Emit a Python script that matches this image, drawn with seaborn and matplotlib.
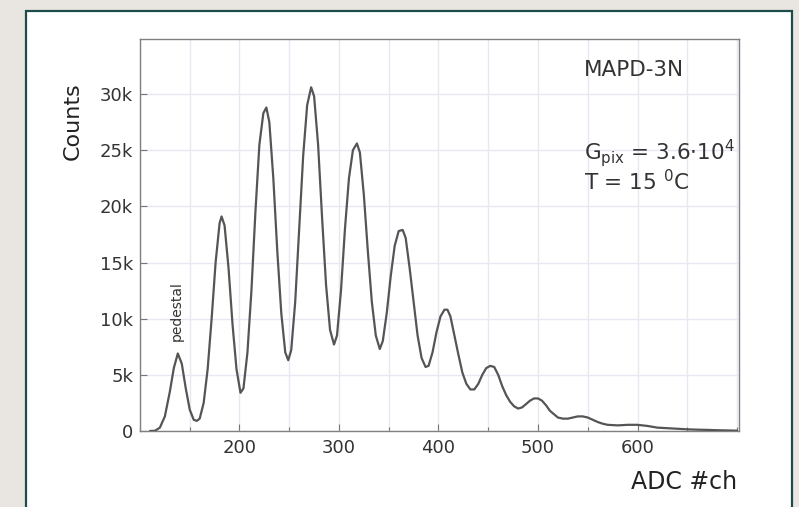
import matplotlib
matplotlib.use("Agg")
import matplotlib.pyplot as plt
import matplotlib.patches as patches
from matplotlib.ticker import MultipleLocator, FuncFormatter
import seaborn as sns

# ADC spectrum (channel, counts in thousands)
adc_ch = [110, 115, 120, 125, 130, 134, 138, 142, 146, 150, 154, 157, 160, 164,
          168, 172, 176, 180, 182, 185, 189, 193, 197, 201, 204, 208, 212, 216,
          220, 224, 227, 230, 234, 238, 242, 246, 249, 252, 256, 260, 264, 268,
          272, 275, 279, 283, 287, 291, 295, 298, 302, 306, 310, 314, 318, 321,
          325, 329, 333, 337, 341, 344, 348, 352, 356, 360, 364, 367, 371, 375,
          379, 383, 387, 390, 394, 398, 402, 406, 409, 412, 416, 420, 424, 428,
          432, 436, 440, 444, 448, 452, 456, 460, 464, 468, 472, 476, 480, 484,
          488, 492, 496, 500, 504, 508, 512, 516, 520, 525, 530, 535, 540, 545,
          550, 555, 560, 565, 570, 580, 590, 600, 610, 620, 630, 640, 650, 660,
          670, 680, 690, 700]
counts_k = [0.0, 0.02, 0.3, 1.3, 3.5, 5.6, 6.9, 6.0, 3.8, 1.9, 1.0, 0.9, 1.1, 2.5,
            5.5, 10.0, 15.0, 18.5, 19.1, 18.3, 14.5, 9.5, 5.5, 3.4, 3.8, 7.0, 12.5, 19.5,
            25.5, 28.3, 28.8, 27.5, 22.5, 16.0, 10.5, 7.0, 6.3, 7.2, 11.5, 18.0, 24.5, 29.0,
            30.6, 29.8, 25.5, 19.0, 13.0, 9.0, 7.7, 8.5, 12.5, 18.0, 22.5, 25.0, 25.6, 24.8,
            21.0, 16.0, 11.5, 8.5, 7.3, 8.0, 10.5, 13.8, 16.5, 17.8, 17.9, 17.2, 14.5, 11.5,
            8.5, 6.5, 5.7, 5.8, 7.0, 8.8, 10.2, 10.8, 10.8, 10.2, 8.5, 6.8, 5.2, 4.2,
            3.7, 3.7, 4.2, 5.0, 5.6, 5.8, 5.7, 5.0, 4.0, 3.2, 2.6, 2.2, 2.0, 2.1,
            2.4, 2.7, 2.9, 2.9, 2.7, 2.3, 1.8, 1.5, 1.2, 1.1, 1.1, 1.2, 1.3, 1.3,
            1.2, 1.0, 0.8, 0.65, 0.55, 0.5, 0.55, 0.55, 0.45, 0.3, 0.25, 0.2, 0.15, 0.12,
            0.1, 0.07, 0.05, 0.03]

x_ticks = [200, 300, 400, 500, 600]
y_ticks_k = [0, 5, 10, 15, 20, 25, 30]

sns.set_style("ticks")
plt.rcParams['font.family'] = ['DejaVu Sans']
plt.rcParams['mathtext.fontset'] = 'dejavusans'

fig = plt.figure(figsize=(7.99, 5.07), dpi=100, facecolor='#e9e6e1')

# white slide panel with teal frame, drawn behind the axes
panel = patches.Rectangle((0.0325, -0.05), 0.9587, 1.0283, transform=fig.transFigure,
                          facecolor='white', edgecolor='#1d4d4b', linewidth=1.6, zorder=-5)
fig.patches.append(panel)

ax = fig.add_axes([0.1752, 0.1499, 0.7497, 0.7732])
ax.set_zorder(2)
ax.set_facecolor('white')

counts = [c * 1000 for c in counts_k]
sns.lineplot(x=adc_ch, y=counts, ax=ax, color='#555555', linewidth=1.6, zorder=3)

ax.set_xlim(100, 702)
ax.set_ylim(0, 34900)
ax.set_xticks(x_ticks)
ax.xaxis.set_minor_locator(MultipleLocator(50))
ax.set_yticks([v * 1000 for v in y_ticks_k])
ax.yaxis.set_major_formatter(FuncFormatter(lambda v, p: '0' if v == 0 else f'{int(v / 1000)}k'))

ax.grid(True, which='both', color='#e8e8f2', linewidth=1.0, zorder=0)
ax.tick_params(axis='both', which='major', direction='in', length=5, width=0.8,
               color='#777777', labelsize=13, labelcolor='#333333')
ax.tick_params(axis='x', which='major', pad=6)
ax.tick_params(axis='y', which='major', pad=5)
ax.tick_params(axis='both', which='minor', direction='in', length=3, width=0.8, color='#777777')
ax.tick_params(axis='y', which='minor', length=0)
for sp in ax.spines.values():
    sp.set_visible(True)
    sp.set_color('#808080')
    sp.set_linewidth(1.0)

ax.set_ylabel('Counts', fontsize=16, color='#222222')
ax.yaxis.set_label_coords(-0.095, 0.79)
ax.set_xlabel('ADC #ch', fontsize=17, color='#222222', loc='right')
ax.xaxis.set_label_coords(0.997, -0.10)

ax.text(137, 10700, 'pedestal', rotation=90, ha='center', va='center',
        fontsize=10, color='#333333')

ax.text(0.741, 0.921, 'MAPD-3N', transform=ax.transAxes, fontsize=15.5,
        color='#333333', ha='left', va='center')
ax.text(0.741, 0.71, r'G$_{\mathregular{pix}}$ = 3.6$\cdot$10$^{\mathregular{4}}$',
        transform=ax.transAxes, fontsize=15.5, color='#333333', ha='left', va='center')
ax.text(0.741, 0.635, r'T = 15 $^{\mathregular{0}}$C', transform=ax.transAxes,
        fontsize=15.5, color='#333333', ha='left', va='center')

fig.savefig('out.png', dpi=100, facecolor=fig.get_facecolor())
